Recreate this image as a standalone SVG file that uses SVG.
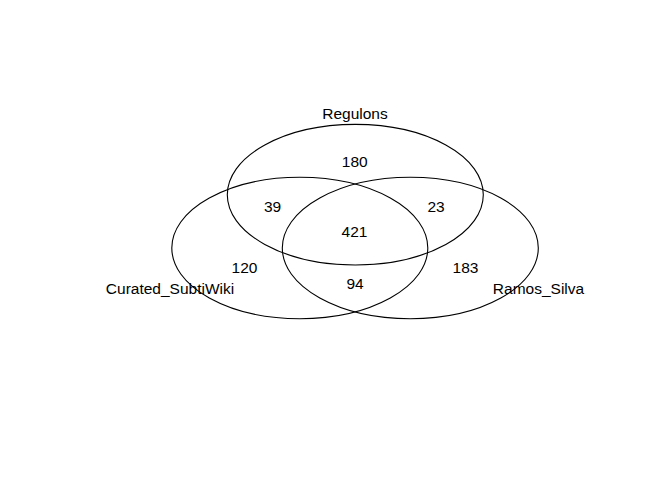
<svg xmlns="http://www.w3.org/2000/svg" width="672" height="480" viewBox="0 0 672 480">
<style>
  .set { fill: none; stroke: #000; stroke-width: 1.1; }
  .t { font-family: "Liberation Sans", Arial, sans-serif; font-size: 15.5px; fill: #000; text-anchor: middle; }
</style>
<rect width="672" height="480" fill="#fff"/>
<g id="sets">
  <g id="regulons">
    <ellipse class="set" cx="355.3" cy="194.7" rx="128" ry="70.3"/>
    <text class="t" x="355" y="118.5">Regulons</text>
  </g>
  <g id="curated_subtiwiki">
    <ellipse class="set" cx="299.8" cy="248" rx="128" ry="70.7"/>
    <text class="t" x="170" y="293.5">Curated_SubtiWiki</text>
  </g>
  <g id="ramos_silva">
    <ellipse class="set" cx="410.3" cy="248" rx="128" ry="70.7"/>
    <text class="t" x="538.5" y="293.5">Ramos_Silva</text>
  </g>
</g>
<g id="counts">
  <text class="t" x="354.8" y="166.5">180</text>
  <text class="t" x="272.5" y="211.8">39</text>
  <text class="t" x="436" y="211.8">23</text>
  <text class="t" x="354.5" y="237">421</text>
  <text class="t" x="244.5" y="273">120</text>
  <text class="t" x="465.5" y="273">183</text>
  <text class="t" x="355" y="288.5">94</text>
</g>
</svg>
